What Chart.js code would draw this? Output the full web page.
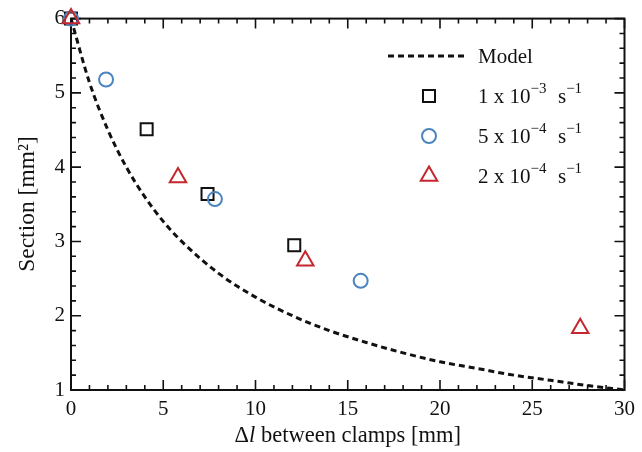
<!DOCTYPE html>
<html>
<head>
<meta charset="utf-8">
<script src="https://cdn.jsdelivr.net/npm/chart.js@4/dist/chart.umd.min.js"></script>
<style>
  html, body { margin: 0; padding: 0; background: #fff; }
  #wrap { width: 642px; height: 452px; position: relative; }
</style>
</head>
<body>
<div id="wrap"><canvas id="c" width="642" height="452"></canvas></div>
<script>
// Section of the sample versus elongation between the clamps
const modelX = [0, 1, 2, 3, 4, 5, 6, 8, 10, 12, 14, 16, 18, 20, 22, 24, 26, 28, 30];
const modelY = [6.00, 5.14, 4.50, 4.00, 3.60, 3.27, 3.00, 2.57, 2.25, 2.00, 1.80, 1.64, 1.50, 1.38, 1.29, 1.20, 1.13, 1.06, 1.00];

const rate1X = [0, 4.1, 7.4, 12.1];          // 1 x 10^-3 s^-1
const rate1Y = [6.0, 4.51, 3.64, 2.95];
const rate2X = [0, 1.9, 7.8, 15.7];          // 5 x 10^-4 s^-1
const rate2Y = [6.0, 5.18, 3.57, 2.47];
const rate3X = [0, 5.8, 12.7, 27.6];         // 2 x 10^-4 s^-1
const rate3Y = [6.0, 3.86, 2.74, 1.83];

const xTicks = [0, 5, 10, 15, 20, 25, 30];
const yTicks = [1, 2, 3, 4, 5, 6];

const FONT = '"Liberation Serif", "DejaVu Serif", serif';
const BLUE = '#4a85c0';
const RED = '#c4272e';
const INK = '#111';

const pts = (xs, ys) => xs.map((x, i) => ({ x, y: ys[i] }));

// Frame with inward ticks on all four sides, axis titles and legend
const framePlugin = {
  id: 'frame',
  beforeDatasetsDraw(chart) {
    const { ctx, chartArea: a, scales: { x, y } } = chart;
    ctx.save();
    ctx.strokeStyle = INK;
    ctx.lineWidth = 1.6;
    ctx.beginPath();
    for (let v = xTicks[0]; v <= xTicks[xTicks.length - 1] + 1e-9; v += 1) {
      const px = x.getPixelForValue(v);
      const len = xTicks.includes(v) ? 10 : 5;
      ctx.moveTo(px, a.bottom); ctx.lineTo(px, a.bottom - len);
      ctx.moveTo(px, a.top); ctx.lineTo(px, a.top + len);
    }
    for (let k = 0; k <= 25; k++) {
      const v = yTicks[0] + k * 0.2;
      const py = y.getPixelForValue(v);
      const len = (k % 5 === 0) ? 10 : 5;
      ctx.moveTo(a.left, py); ctx.lineTo(a.left + len, py);
      ctx.moveTo(a.right, py); ctx.lineTo(a.right - len, py);
    }
    ctx.stroke();
    ctx.lineWidth = 2;
    ctx.strokeRect(a.left, a.top, a.right - a.left, a.bottom - a.top);
    ctx.restore();
  },
  afterDraw(chart) {
    const { ctx, chartArea: a } = chart;
    ctx.save();
    ctx.fillStyle = INK;
    // x title with italic l
    ctx.textBaseline = 'alphabetic';
    const cx = (a.left + a.right) / 2;
    const base = 442;
    const f = '22.5px ' + FONT, fi = 'italic 22.5px ' + FONT;
    const parts = [['Δ', f], ['l', fi], [' between clamps [mm]', f]];
    let w = 0;
    parts.forEach(([t, ft]) => { ctx.font = ft; w += ctx.measureText(t).width; });
    let px = cx - w / 2;
    parts.forEach(([t, ft]) => { ctx.font = ft; ctx.textAlign = 'left'; ctx.fillText(t, px, base); px += ctx.measureText(t).width; });
    // y title
    ctx.translate(28, 204);
    ctx.rotate(-Math.PI / 2);
    ctx.font = '23.5px ' + FONT;
    ctx.textAlign = 'center';
    ctx.textBaseline = 'middle';
    ctx.fillText('Section [mm²]', 0, 0);
    ctx.restore();

    // legend
    ctx.save();
    const rows = [
      { kind: 'line', label: [['Model']] },
      { kind: 'rect', color: INK, label: [['1 x 10'], ['−3', 1], ['  s'], ['−1', 1]] },
      { kind: 'circle', color: BLUE, label: [['5 x 10'], ['−4', 1], ['  s'], ['−1', 1]] },
      { kind: 'triangle', color: RED, label: [['2 x 10'], ['−4', 1], ['  s'], ['−1', 1]] }
    ];
    const rowY = [56, 96, 136, 176];
    const markX = 429, textX = 478;
    rows.forEach((r, i) => {
      const yy = rowY[i];
      ctx.strokeStyle = r.color || INK;
      ctx.fillStyle = 'rgba(0,0,0,0)';
      ctx.lineWidth = 2;
      if (r.kind === 'line') {
        ctx.setLineDash([6, 4]);
        ctx.lineWidth = 3;
        ctx.beginPath(); ctx.moveTo(388, yy); ctx.lineTo(468, yy); ctx.stroke();
        ctx.setLineDash([]);
      } else {
        Chart.helpers.drawPoint(ctx, { pointStyle: r.kind, radius: r.kind === 'rect' ? 8.5 : (r.kind === 'circle' ? 7 : 9.5), borderWidth: 2 }, markX, yy);
      }
      let tx = textX;
      ctx.fillStyle = INK;
      ctx.textAlign = 'left';
      ctx.textBaseline = 'alphabetic';
      r.label.forEach(([t, sup]) => {
        ctx.font = (sup ? '15px ' : '21px ') + FONT;
        ctx.fillText(t, tx, yy + 7 - (sup ? 10 : 0));
        tx += ctx.measureText(t).width + (sup ? 1 : 0);
      });
    });
    ctx.restore();
  }
};

new Chart(document.getElementById('c'), {
  type: 'scatter',
  data: {
    datasets: [
      { label: '2 x 10^-4 s^-1', data: pts(rate3X, rate3Y), order: 0, pointStyle: 'triangle',
        pointRadius: 9.5, pointHoverRadius: 9.5, borderColor: RED, backgroundColor: 'rgba(0,0,0,0)', borderWidth: 2, clip: false },
      { label: '5 x 10^-4 s^-1', data: pts(rate2X, rate2Y), order: 1, pointStyle: 'circle',
        pointRadius: 7, pointHoverRadius: 7, borderColor: BLUE, backgroundColor: 'rgba(0,0,0,0)', borderWidth: 2, clip: false },
      { label: '1 x 10^-3 s^-1', data: pts(rate1X, rate1Y), order: 2, pointStyle: 'rect',
        pointRadius: 8.5, pointHoverRadius: 8.5, borderColor: INK, backgroundColor: 'rgba(0,0,0,0)', borderWidth: 2, clip: false },
      { label: 'Model', data: pts(modelX, modelY), order: 3, showLine: true, pointRadius: 0,
        borderColor: INK, borderWidth: 3, borderDash: [6, 4], cubicInterpolationMode: 'monotone', fill: false }
    ]
  },
  options: {
    responsive: false,
    animation: false,
    devicePixelRatio: 1,
    layout: { padding: { left: 0, top: 18, right: 14, bottom: 0 } },
    plugins: { legend: { display: false }, tooltip: { enabled: false } },
    scales: {
      x: {
        type: 'linear', min: 0, max: 30,
        afterFit(s) { s.height = 62; },
        afterBuildTicks(s) { s.ticks = xTicks.map(v => ({ value: v })); },
        grid: { display: false, drawTicks: false },
        border: { display: false },
        ticks: { padding: 7, color: INK, font: { family: FONT, size: 21 }, maxRotation: 0 }
      },
      y: {
        type: 'linear', min: 1, max: 6,
        afterFit(s) { s.width = 71; },
        afterBuildTicks(s) { s.ticks = yTicks.map(v => ({ value: v })); },
        grid: { display: false, drawTicks: false },
        border: { display: false },
        ticks: { padding: 6, color: INK, font: { family: FONT, size: 21 } }
      }
    }
  },
  plugins: [framePlugin]
});
</script>
</body>
</html>
